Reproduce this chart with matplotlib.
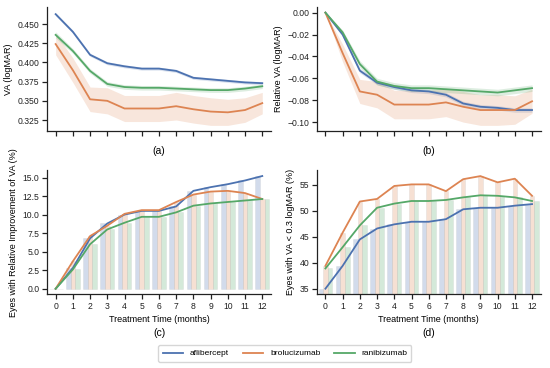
import numpy as np
import matplotlib
matplotlib.use("Agg")
import matplotlib.pyplot as plt

months = list(range(13))
drugs = ["aflibercept", "brolucizumab", "ranibizumab"]
colors = ["#4c72b0", "#dd8452", "#55a868"]

# (a) VA (logMAR) mean and CI half-width
va_mean = {
    "aflibercept": [0.463, 0.440, 0.410, 0.399, 0.395, 0.392, 0.392, 0.389, 0.380, 0.378, 0.376, 0.374, 0.373],
    "brolucizumab": [0.424, 0.390, 0.352, 0.350, 0.340, 0.340, 0.340, 0.343, 0.339, 0.336, 0.335, 0.338, 0.347],
    "ranibizumab": [0.436, 0.415, 0.389, 0.372, 0.368, 0.367, 0.367, 0.366, 0.365, 0.364, 0.364, 0.366, 0.369],
}
va_ci = {
    "aflibercept": [0.002, 0.002, 0.002, 0.002, 0.002, 0.002, 0.002, 0.002, 0.002, 0.002, 0.002, 0.002, 0.002],
    "brolucizumab": [0.014, 0.016, 0.016, 0.017, 0.017, 0.017, 0.017, 0.018, 0.018, 0.018, 0.017, 0.016, 0.014],
    "ranibizumab": [0.004, 0.003, 0.003, 0.003, 0.003, 0.003, 0.003, 0.003, 0.003, 0.003, 0.003, 0.003, 0.003],
}

# (b) Relative VA (logMAR)
rva_mean = {
    "aflibercept": [0.0, -0.020, -0.053, -0.064, -0.068, -0.071, -0.072, -0.075, -0.083, -0.086, -0.087, -0.089, -0.089],
    "brolucizumab": [0.0, -0.037, -0.072, -0.075, -0.084, -0.084, -0.084, -0.082, -0.086, -0.089, -0.089, -0.089, -0.081],
    "ranibizumab": [0.0, -0.018, -0.047, -0.063, -0.067, -0.069, -0.069, -0.070, -0.071, -0.072, -0.073, -0.071, -0.069],
}
rva_ci = {
    "aflibercept": [0.0, 0.002, 0.002, 0.002, 0.002, 0.002, 0.002, 0.002, 0.002, 0.002, 0.002, 0.002, 0.002],
    "brolucizumab": [0.0, 0.008, 0.011, 0.012, 0.013, 0.013, 0.013, 0.013, 0.014, 0.014, 0.014, 0.013, 0.011],
    "ranibizumab": [0.0, 0.002, 0.003, 0.003, 0.003, 0.003, 0.003, 0.003, 0.003, 0.003, 0.003, 0.003, 0.003],
}

# (c) Eyes with relative improvement of VA (%)
improve = {
    "aflibercept": [0.0, 2.8, 6.8, 8.8, 10.0, 10.5, 10.5, 11.1, 13.2, 13.7, 14.1, 14.6, 15.2],
    "brolucizumab": [0.0, 3.7, 7.1, 8.5, 10.1, 10.6, 10.6, 11.7, 12.7, 13.1, 13.2, 12.9, 12.1],
    "ranibizumab": [0.0, 2.6, 6.0, 8.0, 8.9, 9.7, 9.7, 10.3, 11.2, 11.5, 11.7, 11.9, 12.1],
}

# (d) Eyes with VA < 0.3 logMAR (%)
good_va = {
    "aflibercept": [35.0, 39.4, 44.5, 46.6, 47.4, 47.9, 47.9, 48.4, 50.3, 50.6, 50.6, 51.0, 51.3],
    "brolucizumab": [39.4, 45.8, 51.8, 52.3, 54.8, 55.1, 55.1, 53.8, 56.1, 56.7, 55.5, 56.2, 52.9],
    "ranibizumab": [38.9, 43.0, 47.2, 50.6, 51.4, 51.9, 51.9, 52.1, 52.6, 53.0, 52.9, 52.6, 51.9],
}

plt.rcParams["font.family"] = ["Liberation Sans", "DejaVu Sans"]
fig = plt.figure(figsize=(5.5, 3.68), dpi=100)

W = 0.407
H = 0.337
axa = fig.add_axes([0.0855, 0.644, W, H])
axb = fig.add_axes([0.576, 0.644, W, H])
axc = fig.add_axes([0.0855, 0.200, W, H])
axd = fig.add_axes([0.576, 0.200, W, H])

x = np.array(months)
lw = 1.3

def style(ax):
    for s in ["top", "right"]:
        ax.spines[s].set_visible(False)
    for s in ["left", "bottom"]:
        ax.spines[s].set_linewidth(0.9)
        ax.spines[s].set_color("#222222")
    ax.tick_params(labelsize=6.2, length=3.5, width=0.9, colors="#222222", pad=2)
    ax.set_xlim(-0.5, 12.5)
    ax.set_xticks(months)

for ax, mean, ci in [(axa, va_mean, va_ci), (axb, rva_mean, rva_ci)]:
    for d, c in zip(drugs, colors):
        m = np.array(mean[d]); e = np.array(ci[d])
        ax.fill_between(x, m - e, m + e, color=c, alpha=0.2, lw=0)
        ax.plot(x, m, color=c, lw=lw)
    style(ax)
    ax.tick_params(axis="x", labelbottom=False)

axa.set_yticks([0.325, 0.350, 0.375, 0.400, 0.425, 0.450])
axa.set_yticklabels([f"{v:.3f}" for v in [0.325, 0.350, 0.375, 0.400, 0.425, 0.450]])
axa.set_ylabel("VA (logMAR)", fontsize=6.5, labelpad=3)
axb.set_yticks([-0.10, -0.08, -0.06, -0.04, -0.02, 0.0])
axb.set_yticklabels([f"{v:.2f}".replace("-", "\u2212") for v in [-0.10, -0.08, -0.06, -0.04, -0.02, 0.0]])
axb.set_ylabel("Relative VA (logMAR)", fontsize=6.5, labelpad=3)

bw = 0.8 / 3
for ax, data in [(axc, improve), (axd, good_va)]:
    for i, (d, c) in enumerate(zip(drugs, colors)):
        v = np.array(data[d])
        ax.bar(x + (i - 1) * bw, v, width=bw, color=c, alpha=0.25,
               edgecolor="#aaaaaa", linewidth=0.4)
    for d, c in zip(drugs, colors):
        ax.plot(x, data[d], color=c, lw=lw, label=d)
    style(ax)
    ax.set_xlabel("Treatment Time (months)", fontsize=6.5, labelpad=3)

axc.set_ylim(-0.76, 15.96)
axc.set_yticks([0, 2.5, 5, 7.5, 10, 12.5, 15])
axc.set_yticklabels(["0.0", "2.5", "5.0", "7.5", "10.0", "12.5", "15.0"])
axc.set_ylabel("Eyes with Relative Improvement of VA (%)", fontsize=6.5, labelpad=3)
axd.set_ylim(33.9, 57.8)
axd.set_yticks([35, 40, 45, 50, 55])
axd.set_ylabel("Eyes with VA < 0.3 logMAR (%)", fontsize=6.5, labelpad=3)

fig.text(0.2895, 1 - 150.5 / 368, "(a)", ha="center", va="center", fontsize=7.5)
fig.text(0.7795, 1 - 150.5 / 368, "(b)", ha="center", va="center", fontsize=7.5)
fig.text(0.2895, 1 - 333 / 368, "(c)", ha="center", va="center", fontsize=7.5)
fig.text(0.7795, 1 - 333 / 368, "(d)", ha="center", va="center", fontsize=7.5)

handles, labels = axc.get_legend_handles_labels()
fig.legend(handles, labels, loc="center", bbox_to_anchor=(0.518, 1 - 353.5 / 368),
           ncol=3, fontsize=6, frameon=True, handlelength=2.5, columnspacing=1.6,
           handletextpad=0.8, borderpad=0.5, fancybox=True)

fig.savefig("out.png", dpi=100)
